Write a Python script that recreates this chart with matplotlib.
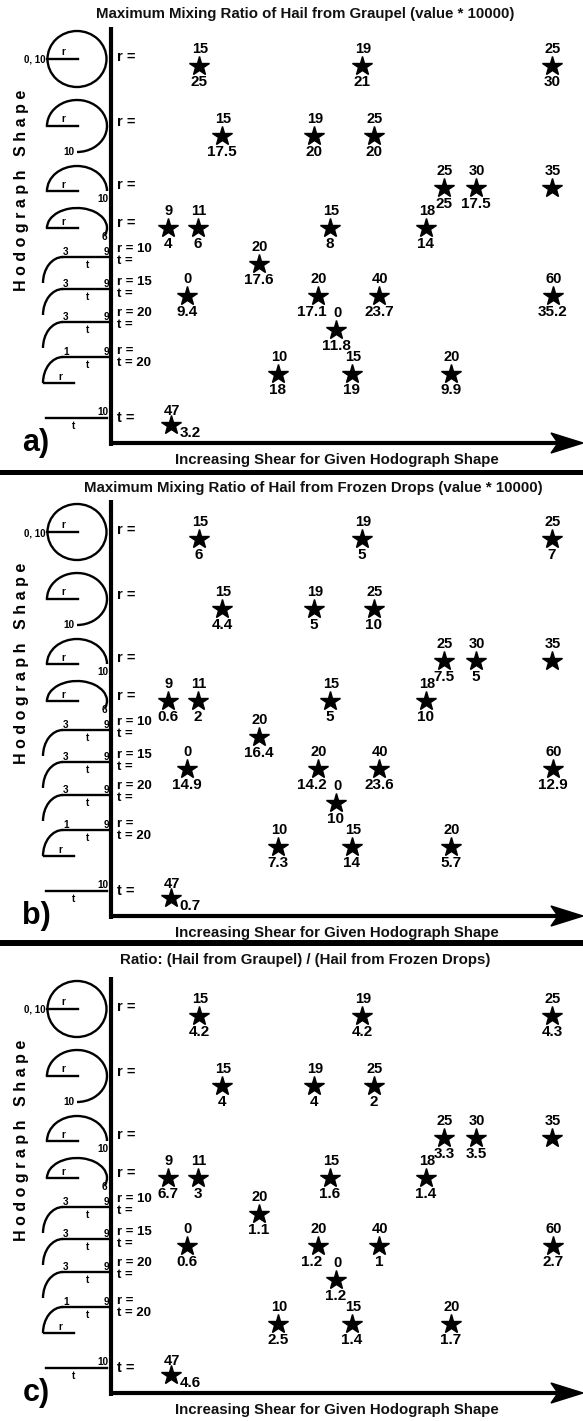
import matplotlib
matplotlib.use('Agg')
import matplotlib.pyplot as plt
from matplotlib.patches import Arc, Ellipse, Polygon

plt.rcParams['font.family'] = ['Liberation Sans', 'DejaVu Sans']

# one star per case: hodograph row (0 = full circle ... 8 = straight line),
# position along the shear axis, r/t value written above the star
rows = [0, 0, 0, 1, 1, 1, 2, 2, 2, 3, 3, 3, 3, 4, 5, 5, 5, 5, 6, 7, 7, 7, 8]
shear = [199, 362, 552, 222, 314, 374, 444, 476, 552, 168, 198, 330, 426,
         259, 187, 318, 379, 553, 336, 278, 352, 451, 171]
rt_vals = [15, 19, 25, 15, 19, 25, 25, 30, 35, 9, 11, 15, 18,
           20, 0, 20, 40, 60, 0, 10, 15, 20, 47]

# values written below the stars
graupel = [25, 21, 30, 17.5, 20, 20, 25, 17.5, None, 4, 6, 8, 14,
           17.6, 9.4, 17.1, 23.7, 35.2, 11.8, 18, 19, 9.9, 3.2]
frozen = [6, 5, 7, 4.4, 5, 10, 7.5, 5, None, 0.6, 2, 5, 10,
          16.4, 14.9, 14.2, 23.6, 12.9, 10, 7.3, 14, 5.7, 0.7]
ratio = [4.2, 4.2, 4.3, 4, 4, 2, 3.3, 3.5, None, 6.7, 3, 1.6, 1.4,
         1.1, 0.6, 1.2, 1, 2.7, 1.2, 2.5, 1.4, 1.7, 4.6]

titles = ['Maximum Mixing Ratio of Hail from Graupel (value * 10000)',
          'Maximum Mixing Ratio of Hail from Frozen Drops (value * 10000)',
          'Ratio: (Hail from Graupel) / (Hail from Frozen Drops)']
tags = ['a)', 'b)', 'c)']
row_text = [['r ='], ['r ='], ['r ='], ['r ='], ['r = 10', 't ='], ['r = 15', 't ='],
            ['r = 20', 't ='], ['r =', 't = 20'], ['t =']]

# layout (pixels)
W, H = 583, 1421
offsets = [0, 473, 950]
title_y = [14, 15, 10]
title_x = [305, 313, 305]
row_y = [66, 136, 188, 228, 264, 296, 330, 374, 425]
label_y = [[57], [122], [185], [223], [249, 261], [282, 294], [313, 325], [351, 363], [418]]

fig = plt.figure(figsize=(W / 100, H / 100), dpi=100)
ax = fig.add_axes([0, 0, 1, 1])
ax.set_xlim(0, W)
ax.set_ylim(H, 0)
ax.axis('off')

small = dict(fontsize=7.2, fontweight='bold', ha='center', va='center')


def hodographs(o):
    lw = 1.7
    # full circle
    ax.add_patch(Ellipse((77, 59 + o), 59, 56, fill=False, lw=lw))
    ax.plot([47, 78], [59 + o, 59 + o], 'k', lw=lw)
    ax.text(63, 52 + o, 'r', **small)
    ax.text(45, 60 + o, '0, 10', fontsize=7, fontweight='bold', ha='right', va='center')
    # three-quarter circle
    ax.add_patch(Arc((77, 126 + o), 60, 52, theta1=180, theta2=90, lw=lw))
    ax.plot([47, 78], [126 + o, 126 + o], 'k', lw=lw)
    ax.text(63, 119 + o, 'r', **small)
    ax.text(74, 152 + o, '10', fontsize=7.2, fontweight='bold', ha='right', va='center')
    # half circles
    ax.add_patch(Arc((77, 191 + o), 60, 50, theta1=180, theta2=360, lw=lw))
    ax.plot([47, 78], [191 + o, 191 + o], 'k', lw=lw)
    ax.text(63, 185 + o, 'r', **small)
    ax.text(103, 199 + o, '10', **small)
    ax.add_patch(Arc((77, 228 + o), 60, 40, theta1=180, theta2=15, lw=lw))
    ax.plot([47, 78], [228 + o, 228 + o], 'k', lw=lw)
    ax.text(63, 222 + o, 'r', **small)
    ax.text(104, 237 + o, '6', **small)
    # quarter circle + straight line
    for yl, first in zip([257, 289, 322, 357], ['3', '3', '3', '1']):
        ax.add_patch(Arc((63, yl + 26 + o), 40, 52, theta1=180, theta2=270, lw=lw))
        ax.plot([63, 108], [yl + o, yl + o], 'k', lw=lw)
        ax.text(66, yl - 5 + o, first, **small)
        ax.text(106, yl - 5 + o, '9', **small)
        ax.text(87, yl + 8 + o, 't', **small)
    ax.plot([44, 74], [383 + o, 383 + o], 'k', lw=lw)
    ax.text(60, 377 + o, 'r', **small)
    # straight line
    ax.plot([46, 107], [418 + o, 418 + o], 'k', lw=lw)
    ax.text(103, 412 + o, '10', **small)
    ax.text(74, 426 + o, 't', **small)


for p, vals in enumerate([graupel, frozen, ratio]):
    o = offsets[p]
    ax.text(title_x[p], title_y[p] + o, titles[p], fontsize=10.8, fontweight='bold',
            ha='center', va='center', color='#111111')
    ax.text(22, 190 + o, 'H o d o g r a p h   S h a p e', rotation=90, fontsize=11.5,
            fontweight='bold', ha='center', va='center')
    ax.text(36, 443 + o, tags[p], fontsize=22, fontweight='bold', ha='center', va='center')
    ax.text(337, 460 + o, 'Increasing Shear for Given Hodograph Shape', fontsize=10.8,
            fontweight='bold', ha='center', va='center', color='#111111')
    hodographs(o)
    # axes with arrow
    ax.plot([111, 111], [27 + o, 446 + o], 'k', lw=3, solid_capstyle='butt')
    ax.plot([109, 560], [443 + o, 443 + o], 'k', lw=3, solid_capstyle='butt')
    ax.add_patch(Polygon([[583, 443 + o], [551, 433 + o], [558, 443 + o], [551, 453 + o]],
                         closed=True, color='k'))
    for k, txts in enumerate(row_text):
        fs = 10.5 if len(txts) == 1 else 9.5
        for t, yy in zip(txts, label_y[k]):
            ax.text(117, yy + o, t, fontsize=fs, fontweight='bold', ha='left', va='center')
    ys = [row_y[r] + o for r in rows]
    ax.plot(shear, ys, '*', color='k', ms=15, mec='k')
    for i in range(len(shear)):
        x, y = shear[i], ys[i]
        last = (i == len(shear) - 1)
        ax.text(x + 1, y - (14 if last else 17), str(rt_vals[i]), fontsize=10.5,
                fontweight='bold', ha='center', va='center')
        if vals[i] is None:
            continue
        if last:
            dx, dy = 19, 8
        elif i == 15:
            dx, dy = -6, 16
        else:
            dx, dy = 0, 16
        ax.text(x + dx, y + dy, '%g' % vals[i], fontsize=11, fontweight='bold',
                ha='center', va='center')

# panel separators
ax.plot([0, W], [472, 472], 'k', lw=3.6)
ax.plot([0, W], [943, 943], 'k', lw=4.3)

fig.savefig('out.png', dpi=100, facecolor='white')
